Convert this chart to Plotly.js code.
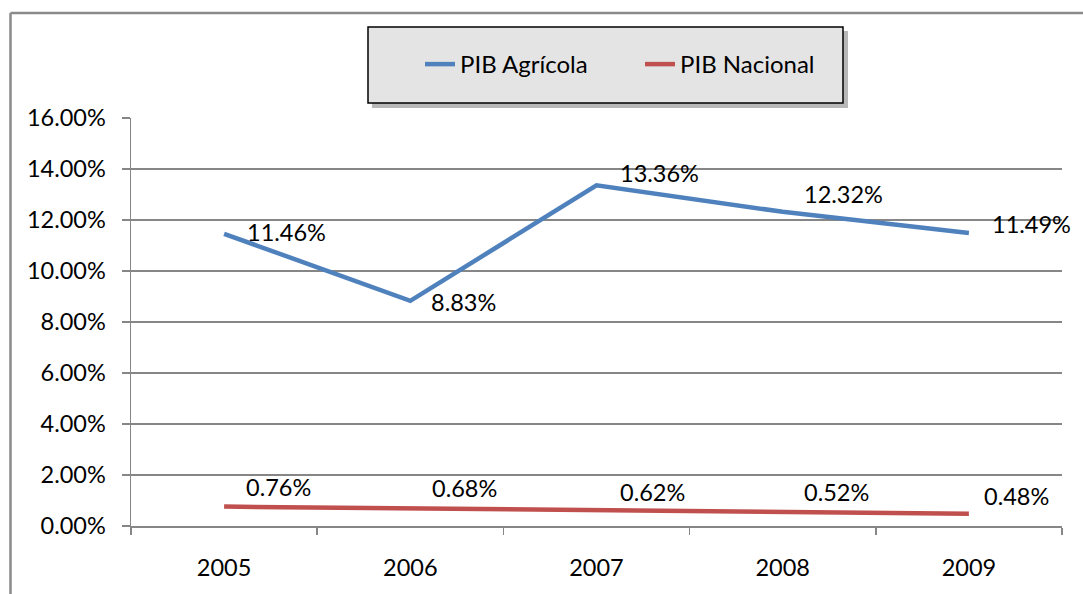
<!DOCTYPE html>
<html>
<head>
<meta charset="utf-8">
<script src="https://cdn.plot.ly/plotly-3.0.1.min.js"></script>
<style>
html,body{margin:0;padding:0;background:#fff;}
#chart{width:1083px;height:594px;}
</style>
</head>
<body>
<div id="chart"></div>
<script>
// ---- data ----
var years = ['2005', '2006', '2007', '2008', '2009'];
var pibAgricola = [0.1146, 0.0883, 0.1336, 0.1232, 0.1149];
var pibNacional = [0.0076, 0.0068, 0.0062, 0.0052, 0.0048];
var seriesNames = ['PIB Agrícola', 'PIB Nacional'];

// ---- label offsets (pixels, style only) ----
var agrShiftX = [21, 19, 21, 19, 21];
var agrShiftY = [2, -1, 12, 18, 9];
var nacShiftX = [20, 20, 21, 19, 13];
var nacShiftY = [20, 21, 18, 21, 18];

// ---- geometry helpers ----
var L = 131, R = 1062, T = 118, B = 526, W = 1083, H = 594;
function px(x) { return (x - L) / (R - L); }
function py(y) { return (B - y) / (B - T); }

var FONT = 'Lato, "Open Sans", sans-serif';
var BLUE = '#4F81BD', RED = '#C0504D', GRID = '#868686';
var FS = 23.5;

function fmt(v) { return (v * 100).toFixed(2) + '%'; }

var traces = [
  { x: years, y: pibAgricola, name: seriesNames[0], type: 'scatter', mode: 'lines',
    line: { color: BLUE, width: 4.5 }, hoverinfo: 'skip' },
  { x: years, y: pibNacional, name: seriesNames[1], type: 'scatter', mode: 'lines',
    line: { color: RED, width: 4.5 }, hoverinfo: 'skip' }
];

// annotations on a category axis: x is the category index
var annotations = [];
years.forEach(function (yr, i) {
  annotations.push({ xref: 'x', yref: 'y', x: i, y: pibAgricola[i], text: fmt(pibAgricola[i]), showarrow: false,
    xanchor: 'left', yanchor: 'middle', xshift: agrShiftX[i], yshift: agrShiftY[i],
    font: { family: FONT, size: FS, color: '#000' } });
  annotations.push({ xref: 'x', yref: 'y', x: i, y: pibNacional[i], text: fmt(pibNacional[i]), showarrow: false,
    xanchor: 'left', yanchor: 'middle', xshift: nacShiftX[i], yshift: nacShiftY[i],
    font: { family: FONT, size: FS, color: '#000' } });
});

var shapes = [
  // outer chart frame (left and top edges visible)
  { type: 'line', xref: 'paper', yref: 'paper', x0: px(10.5), x1: px(10.5), y0: py(620), y1: py(13),
    line: { color: '#8a8a8a', width: 2.5 } },
  { type: 'line', xref: 'paper', yref: 'paper', x0: px(10.5), x1: px(1100), y0: py(13), y1: py(13),
    line: { color: '#8a8a8a', width: 2.5 } },
  // legend shadow
  { type: 'rect', xref: 'paper', yref: 'paper', x0: px(372), x1: px(848), y0: py(31), y1: py(108),
    fillcolor: 'rgba(0,0,0,0.28)', line: { width: 0 } },
  // legend box
  { type: 'rect', xref: 'paper', yref: 'paper', x0: px(368), x1: px(843), y0: py(27), y1: py(103),
    fillcolor: '#e4e4e4', line: { color: '#000', width: 1.5 } }
];

var layout = {
  width: W, height: H,
  margin: { l: L, r: W - R, t: T, b: H - B, pad: 0 },
  paper_bgcolor: '#fff', plot_bgcolor: '#fff',
  font: { family: FONT, size: FS, color: '#000' },
  showlegend: true,
  legend: {
    orientation: 'h', x: px(420), y: py(42), xanchor: 'left', yanchor: 'top',
    bgcolor: 'rgba(0,0,0,0)', borderwidth: 0,
    font: { family: FONT, size: 24, color: '#000' },
    entrywidth: 175, entrywidthmode: 'pixels', itemclick: false
  },
  xaxis: {
    type: 'category', range: [-0.5, 4.5], showgrid: false, zeroline: false,
    showline: true, linecolor: GRID, linewidth: 1.5,
    ticks: 'outside', tickson: 'boundaries', ticklen: 7, tickcolor: GRID, tickwidth: 1.5,
    tickfont: { family: FONT, size: FS, color: '#000' }, ticklabelstandoff: 20, fixedrange: true
  },
  yaxis: {
    range: [0, 0.16], dtick: 0.02, tick0: 0, tickformat: '.2%',
    showgrid: true, gridcolor: GRID, gridwidth: 1.5, zeroline: false,
    showline: true, linecolor: GRID, linewidth: 1.5,
    ticks: 'outside', ticklen: 8, tickcolor: GRID, tickwidth: 1.5,
    tickfont: { family: FONT, size: FS, color: '#000' }, ticklabelstandoff: 11, fixedrange: true
  },
  shapes: shapes,
  annotations: annotations
};

Plotly.newPlot('chart', traces, layout, { staticPlot: true, displayModeBar: false });
</script>
</body>
</html>
